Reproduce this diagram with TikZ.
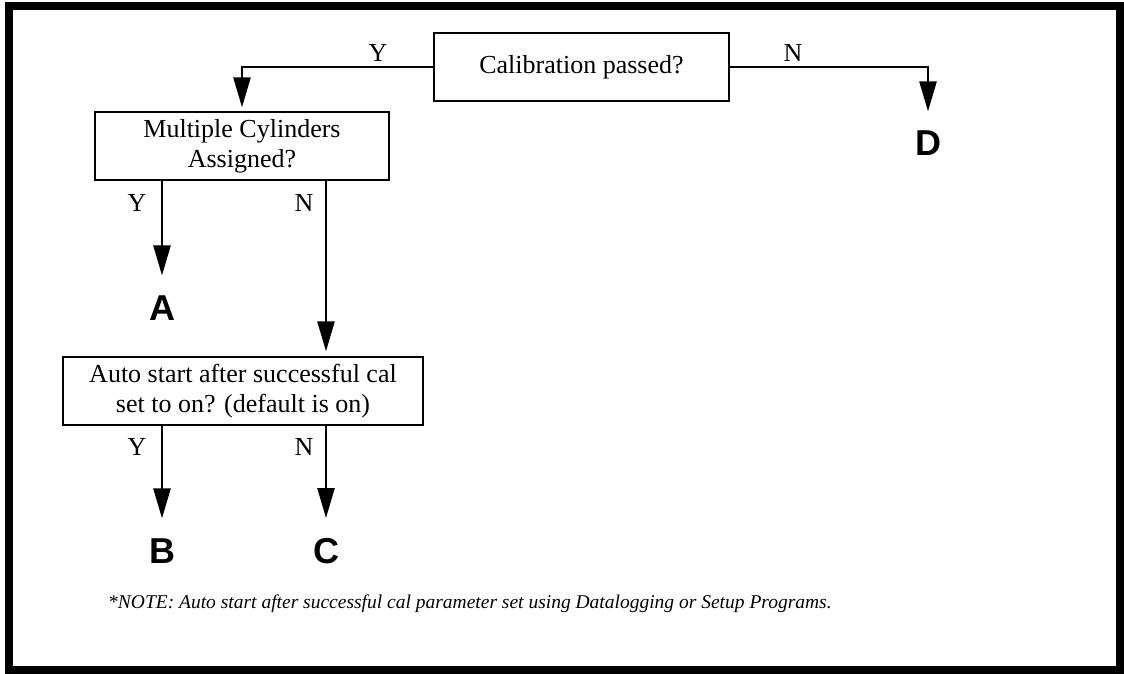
\documentclass[tikz,border=0pt]{standalone}
\usepackage{fontspec}
\setmainfont{Liberation Serif}
\newfontfamily\lsans{Liberation Sans}
\usetikzlibrary{arrows.meta}
\begin{document}
\begin{tikzpicture}[x=1pt,y=-1pt,
  box/.style={draw,line width=1.3pt,minimum width=#1,minimum height=68pt,inner sep=0pt,align=center,font=\fontsize{26}{30}\selectfont},
  lbl/.style={font=\fontsize{26}{30}\selectfont,inner sep=0pt},
  big/.style={font=\lsans\bfseries\fontsize{36}{36}\selectfont,inner sep=0pt},
  arr/.style={line width=2.5pt,-{Triangle[length=30pt,width=17pt]}}]
\useasboundingbox (0,0) rectangle (1124,674);
\draw[line width=8.5pt] (9,6) rectangle (1120,670);

\node[box=295pt] (cal) at (581.5,67) {Calibration passed?};
\node[box=294pt] (mult) at (242,146) {Multiple Cylinders\\Assigned?};
\node[box=360pt] (auto) at (243,391) {Auto start after successful cal\\set to on? (default is on)};

\node[big] (A) at (162,308) {A};
\node[big] (B) at (162,551) {B};
\node[big] (C) at (326,551) {C};
\node[big] (D) at (928,143) {D};

\draw[arr] (cal.west) -| ([yshift=4pt]mult.north);
\draw[arr] (cal.east) -| ([yshift=19pt]D.north);
\draw[arr] (mult.south -| A) -- ([yshift=20pt]A.north);
\draw[arr] (mult.south -| C) -- ([yshift=5pt]auto.north -| C);
\draw[arr] (auto.south -| B) -- ([yshift=20pt]B.north);
\draw[arr] (auto.south -| C) -- ([yshift=20pt]C.north);

\node[lbl] (y1) at (378,53) {Y};
\node[lbl] (n1) at (793,53) {N};
\node[lbl] (y2) at (137,203) {Y};
\node[lbl] (n2) at (304,203) {N};
\node[lbl] (y3) at (137,447) {Y};
\node[lbl] (n3) at (304,447) {N};

\node[anchor=west,inner sep=0pt,font=\itshape\fontsize{19.5}{23}\selectfont] (note) at (108,604)
  {*NOTE: Auto start after successful cal parameter set using Datalogging or Setup Programs.};
\end{tikzpicture}
\end{document}
